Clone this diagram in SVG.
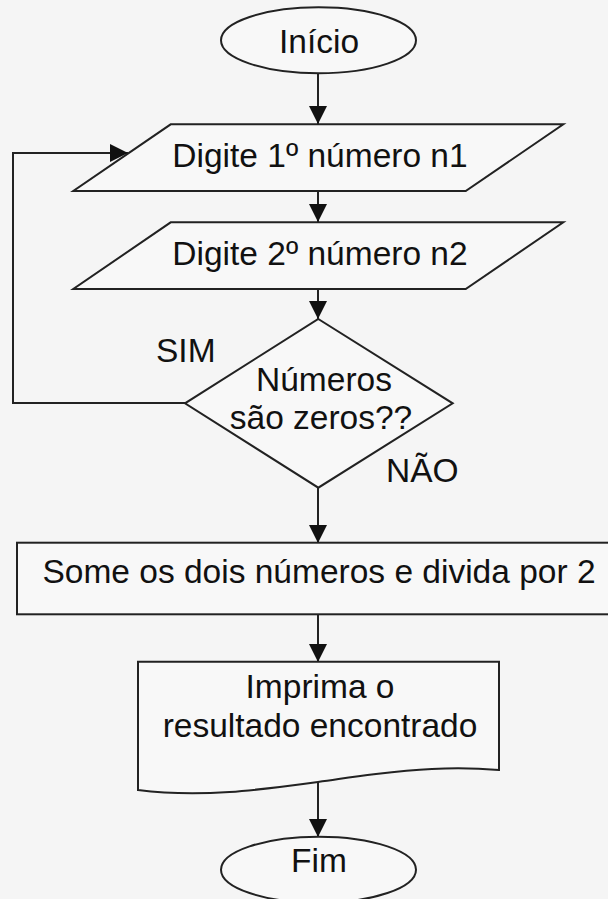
<svg xmlns="http://www.w3.org/2000/svg" width="608" height="899" viewBox="0 0 608 899">
<style>
.shape{fill:#f8f8f8;stroke:#222;stroke-width:2}
.conn{fill:none;stroke:#222;stroke-width:2}
text{font-family:"Liberation Sans",Arial,sans-serif;font-size:33.5px;fill:#111}
.c{text-anchor:middle}
</style>
<defs>
<marker id="arr" viewBox="0 0 18 18" refX="18" refY="9" markerWidth="18" markerHeight="18" markerUnits="userSpaceOnUse" orient="auto">
<path d="M0,0 L18,9 L0,18 z" fill="#111"/>
</marker>
</defs>
<rect width="608" height="899" fill="#f5f5f5"/>
<g id="connectors">
<path class="conn" d="M318,73 V124" marker-end="url(#arr)"/>
<path class="conn" d="M318,191 V222" marker-end="url(#arr)"/>
<path class="conn" d="M318,289 V319" marker-end="url(#arr)"/>
<path class="conn" d="M318,488 V543" marker-end="url(#arr)"/>
<path class="conn" d="M318,614 V662" marker-end="url(#arr)"/>
<path class="conn" d="M318,782 V837" marker-end="url(#arr)"/>
<path class="conn" d="M185,403 H13 V153 H128" marker-end="url(#arr)"/>
</g>
<g id="inicio">
<ellipse class="shape" cx="318.5" cy="40.3" rx="97.5" ry="33"/>
<text class="c" x="319" y="53">Início</text>
</g>
<g id="digite1">
<polygon class="shape" points="170.7,124.3 563.3,124.3 465.7,191 73.3,191"/>
<text class="c" x="320" y="167">Digite 1º número n1</text>
</g>
<g id="digite2">
<polygon class="shape" points="170.7,222.3 563.3,222.3 465.7,289 73.3,289"/>
<text class="c" x="320" y="265">Digite 2º número n2</text>
</g>
<g id="decisao">
<polygon class="shape" points="318.3,319 452.7,403.3 318.3,487.7 185,403.3"/>
<text class="c" x="324" y="390.5">Números</text>
<text class="c" x="321" y="429">são zeros??</text>
</g>
<g id="labels">
<text x="156" y="362">SIM</text>
<text x="386" y="481.5">NÃO</text>
</g>
<g id="soma">
<rect class="shape" x="17" y="542.7" width="604" height="71.6"/>
<text class="c" x="319" y="582.5">Some os dois números e divida por 2</text>
</g>
<g id="imprima">
<path class="shape" d="M138,661.7 H499 V770 C450,766 410,770 376,774 C350,777 340,779 318,782 C260,790 200,798 138,790 Z"/>
<text class="c" x="320" y="698.3">Imprima o</text>
<text class="c" x="320" y="736.7">resultado encontrado</text>
</g>
<g id="fim">
<ellipse class="shape" cx="318.5" cy="869.7" rx="97.5" ry="33"/>
<text class="c" x="319" y="871.7">Fim</text>
</g>
</svg>
